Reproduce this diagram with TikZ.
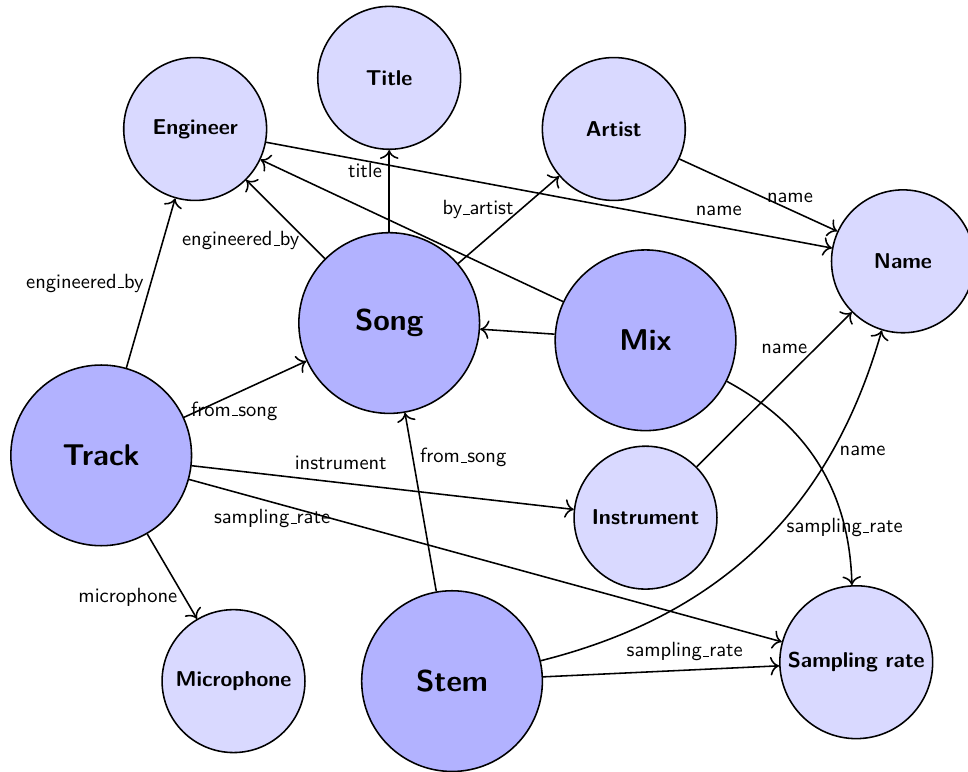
\documentclass[tikz,border=0pt]{standalone}
\usepackage{tikz}
\usetikzlibrary{arrows.meta, positioning}

% short underscore as in the OT1 text fonts
\newcommand{\ubar}{\kern.06em\vbox{\hrule width.3em}}

\begin{document}
\begin{tikzpicture}[
        font=\sffamily\fontsize{10.5}{12.6}\selectfont,
        entity/.style={circle, draw, thick, fill=blue!30, minimum size=3.25cm,
            font=\sffamily\bfseries\fontsize{15.4}{18}\selectfont},
        attr/.style={circle, draw, thick, fill=blue!15, minimum size=2.57cm,
            font=\sffamily\bfseries\fontsize{11}{13}\selectfont},
        rel/.style={-{To[scale=1.35]}, thick}
    ]
        \useasboundingbox (0,0) rectangle (17.41,13.87);

        % Entities
        \node[entity] (track) at (1.82,5.68) {Track};
        \node[entity] (song) at (7.00,8.06) {Song};
        \node[entity] (mix) at (11.61,7.75) {Mix};
        \node[entity] (stem) at (8.13,1.62) {Stem};

        % Attributes
        \node[attr] (engineer) at (3.51,11.55) {Engineer};
        \node[attr] (title) at (7.00,12.47) {Title};
        \node[attr] (artist) at (11.04,11.55) {Artist};
        \node[attr] (name) at (16.24,9.17) {Name};
        \node[attr] (instrument) at (11.61,4.56) {Instrument};
        \node[attr] (microphone) at (4.20,1.62) {Microphone};
        \node[attr] (samplerate) at (15.40,1.96) {Sampling rate};

        % Relations
        \draw[rel] (track) -- (engineer) node[midway, left] {engineered\ubar by};
        \draw[rel] (song) -- (engineer) node[pos=0.23, left] {engineered\ubar by};
        \draw[rel] (mix) -- (engineer);
        \draw[rel] (song) -- (title) node[pos=0.75, left] {title};
        \draw[rel] (song) -- (artist) node[pos=0.62, left] {by\ubar artist};
        \draw[rel] (mix) -- (song);
        \draw[rel] (engineer) -- (name) node[pos=0.8, above=2pt] {name};
        \draw[rel] (artist) -- (name) node[pos=0.7, above] {name};
        \draw[rel] (instrument) -- (name) node[pos=0.76, left] {name};
        \draw[rel] (stem) to[bend right=30] node[pos=0.75, right] {name} (name);
        \draw[rel] (mix) to[bend left=30] node[pos=0.78] {sampling\ubar rate} (samplerate);
        \draw[rel] (track) -- (song) node[pos=0.41, below] {from\ubar song};
        \draw[rel] (track) -- (instrument) node[pos=0.39, above=3pt] {instrument};
        \draw[rel] (track) -- (samplerate) node[pos=0.14, below] {sampling\ubar rate};
        \draw[rel] (track) -- (microphone) node[pos=0.75, left] {microphone};
        \draw[rel] (stem) -- (song) node[pos=0.75, right] {from\ubar song};
        \draw[rel] (stem) -- (samplerate) node[pos=0.6, above=1pt] {sampling\ubar rate};

    \end{tikzpicture}
\end{document}
